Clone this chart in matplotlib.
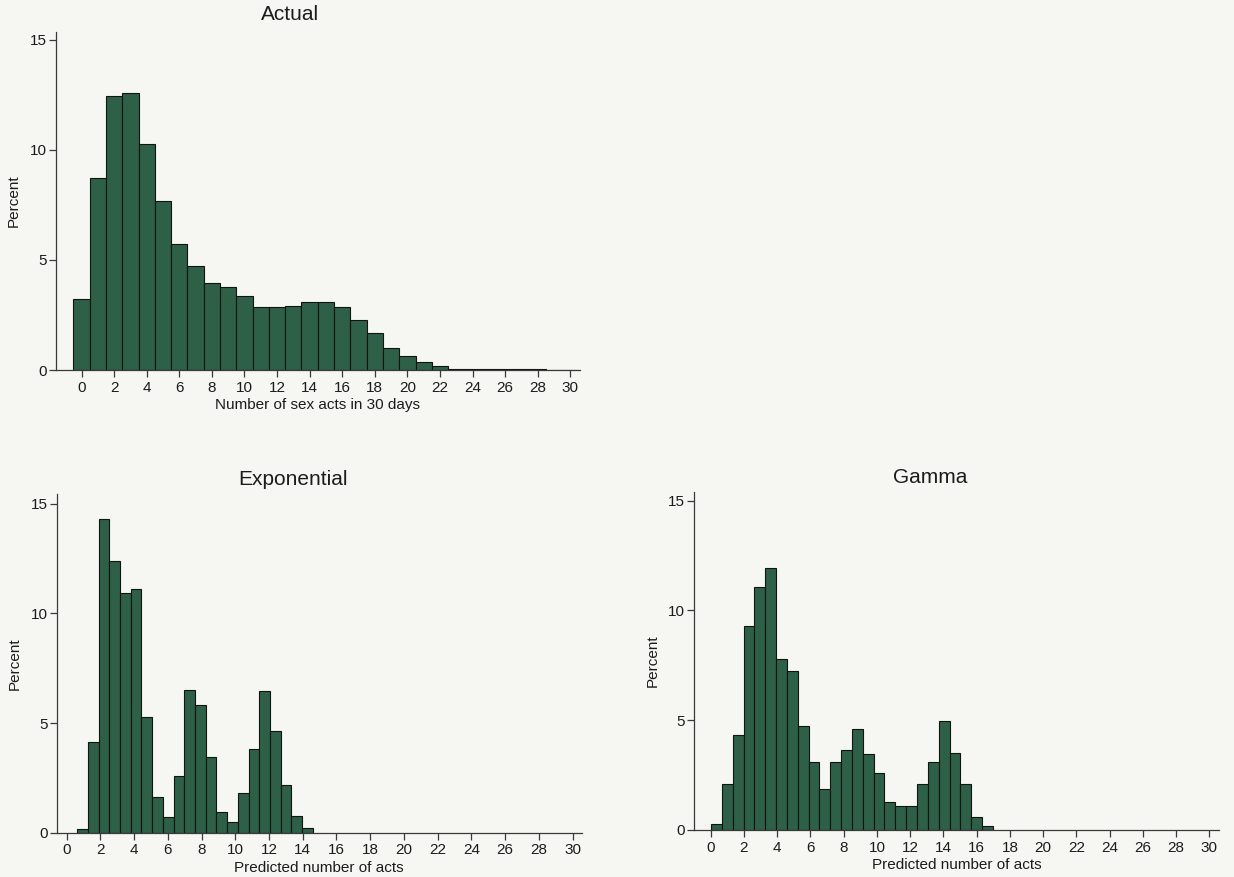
import numpy as np
import matplotlib
matplotlib.use("Agg")
import matplotlib.pyplot as plt

plt.rcParams['font.family'] = ['Liberation Sans', 'DejaVu Sans']

# Actual: percent of respondents by number of acts (0..30)
actual_counts = np.arange(0, 31)
actual_pct = [3.23, 8.74, 12.44, 12.58, 10.27, 7.68, 5.73, 4.74, 3.97, 3.76,
              3.35, 2.86, 2.86, 2.92, 3.08, 3.08, 2.85, 2.26, 1.70, 1.02,
              0.64, 0.35, 0.18, 0.05, 0.04, 0.04, 0.03, 0.03, 0.03, 0.02, 0.02]

# Exponential model predictions (histogram bins)
exp_bin_start = 0.63
exp_bin_width = 0.635
exp_pct = [0.17, 4.12, 14.30, 12.38, 10.91, 11.11, 5.26, 1.64, 0.70, 2.57, 6.51,
           5.80, 3.47, 0.94, 0.49, 1.83, 3.82, 6.48, 4.62, 2.19, 0.76, 0.20]

# Gamma model predictions (histogram bins)
gam_bin_start = 0.02
gam_bin_width = 0.652
gam_pct = [0.29, 2.08, 4.31, 9.30, 11.07, 11.94, 7.77, 7.23, 4.73, 3.11, 1.89,
           3.11, 3.66, 4.59, 3.45, 2.61, 1.26, 1.09, 1.10, 2.08, 3.09, 4.95,
           3.52, 2.09, 0.61, 0.20]

xticks = list(range(0, 31, 2))
yticks = [0, 5, 10, 15]

bg = '#f6f7f3'
bar_col = '#2e5f47'
ink = '#1c1c1c'

fig = plt.figure(figsize=(12.34, 8.77), dpi=100, facecolor=bg)


def style_axes(ax, xlim, ytop, xlabel, xlab_y, ylab_x):
    ax.set_facecolor(bg)
    ax.set_xlim(*xlim)
    ax.set_ylim(0, ytop)
    ax.set_xticks(xticks)
    ax.set_yticks(yticks)
    for s in ['top', 'right']:
        ax.spines[s].set_visible(False)
    for s in ['left', 'bottom']:
        ax.spines[s].set_color('#3a3a3a')
        ax.spines[s].set_linewidth(0.9)
    ax.tick_params(axis='x', direction='out', length=5, width=0.9,
                   color='#3a3a3a', labelsize=11, labelcolor=ink, pad=2.6)
    ax.tick_params(axis='y', direction='out', length=5, width=0.9,
                   color='#3a3a3a', labelsize=11, labelcolor=ink, pad=1.5)
    ax.set_xlabel(xlabel, fontsize=11, color=ink)
    ax.xaxis.set_label_coords(0.5, xlab_y)
    ax.xaxis.label.set_va('center')
    ax.set_ylabel('Percent', fontsize=11, color=ink)
    ax.yaxis.set_label_coords(ylab_x, 0.5)
    ax.yaxis.label.set_va('center')


# Actual
ax1 = fig.add_axes([0.0450, 0.5781, 0.4249, 0.3854])
ax1.bar(actual_counts, actual_pct, width=1.0, color=bar_col,
        edgecolor='#101510', linewidth=0.8)
style_axes(ax1, (-1.6, 30.59), 15.36, 'Number of sex acts in 30 days', -0.105, -0.080)
fig.text(0.235, 0.983, 'Actual', ha='center', va='center', fontsize=15, color=ink)

# Exponential
ax2 = fig.add_axes([0.0459, 0.0505, 0.4255, 0.3859])
exp_edges = exp_bin_start + exp_bin_width * np.arange(len(exp_pct))
ax2.bar(exp_edges, exp_pct, width=exp_bin_width, align='edge', color=bar_col,
        edgecolor='#101510', linewidth=0.8)
style_axes(ax2, (-0.59, 30.54), 15.43, 'Predicted number of acts', -0.1045, -0.079)
fig.text(0.2374, 0.4538, 'Exponential', ha='center', va='center', fontsize=15, color=ink)

# Gamma
ax3 = fig.add_axes([0.5621, 0.0536, 0.4258, 0.3857])
gam_edges = gam_bin_start + gam_bin_width * np.arange(len(gam_pct))
ax3.bar(gam_edges, gam_pct, width=gam_bin_width, align='edge', color=bar_col,
        edgecolor='#101510', linewidth=0.8)
style_axes(ax3, (-1.03, 30.58), 15.41, 'Predicted number of acts', -0.104, -0.077)
fig.text(0.7536, 0.4561, 'Gamma', ha='center', va='center', fontsize=15, color=ink)

fig.savefig('out.png', dpi=100, facecolor=bg)
